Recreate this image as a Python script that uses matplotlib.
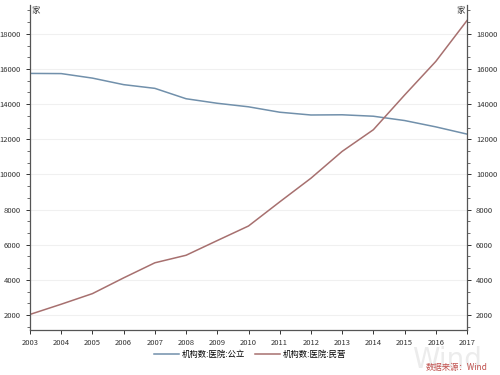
import matplotlib
matplotlib.use('Agg')
import matplotlib.pyplot as plt
from matplotlib.ticker import AutoMinorLocator, MultipleLocator

plt.rcParams['font.family'] = ['Noto Sans CJK SC', 'DejaVu Sans']

# 연도와 병원 수
years = [2003, 2004, 2005, 2006, 2007, 2008, 2009, 2010,
         2011, 2012, 2013, 2014, 2015, 2016, 2017]
public = [15750, 15740, 15483, 15111, 14900, 14309, 14051, 13850,
          13542, 13384, 13396, 13314, 13069, 12708, 12297]
private = [2037, 2617, 3220, 4116, 4974, 5403, 6240, 7068,
           8440, 9786, 11313, 12546, 14518, 16432, 18759]
labels = ['机构数:医院:公立', '机构数:医院:民营']

fig = plt.figure(figsize=(5, 3.75), dpi=100)
ax = fig.add_axes([0.06, 0.12, 0.874, 0.867])

ax.plot(years, public, color='#7190ab', lw=1.1, label=labels[0])
ax.plot(years, private, color='#a7706f', lw=1.1, label=labels[1])

ax.set_xlim(2003, 2017)
ax.set_ylim(1150, 19650)
ax.set_xticks(years)
ax.yaxis.set_major_locator(MultipleLocator(2000))
ax.yaxis.set_minor_locator(AutoMinorLocator(3))
ax.grid(axis='y', color='#f0f0f0', lw=0.8)

ax.spines['top'].set_visible(False)
for s in ['left', 'right', 'bottom']:
    ax.spines[s].set_color('#555555')
    ax.spines[s].set_linewidth(0.9)
ax.tick_params(labelsize=5.5, colors='#333333', length=3, width=0.7)
ax.tick_params(which='minor', length=2, width=0.6, colors='#555555')
ax.tick_params(axis='y', labelleft=True, labelright=True, left=True, right=True,
               which='both')

ax.text(0.004, 0.997, '家', transform=ax.transAxes, fontsize=6, color='#333333',
        va='top', ha='left')
ax.text(0.995, 0.997, '家', transform=ax.transAxes, fontsize=6, color='#333333',
        va='top', ha='right')

fig.legend(loc='center', bbox_to_anchor=(0.5, 0.056), ncol=2, fontsize=6,
           frameon=False, handlelength=3, columnspacing=1.2, handletextpad=0.3)

# 워터마크
fig.text(0.895, 0.02, 'Wind', fontsize=20, color='#ececec', ha='center',
         va='baseline', family='DejaVu Sans', zorder=0)
fig.text(0.975, 0.008, '数据来源：Wind', fontsize=6, color='#c0504d',
         style='italic', ha='right', va='bottom', zorder=3)

fig.savefig('out.png', dpi=100)
